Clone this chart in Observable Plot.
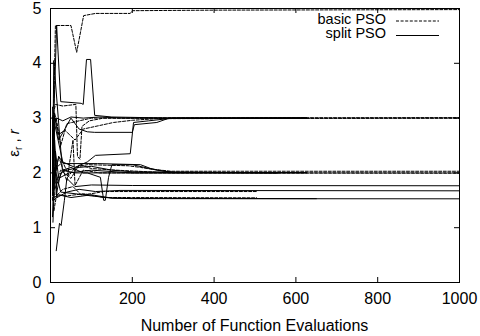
<!DOCTYPE html>
<html>
<head>
<meta charset="utf-8">
<script src="https://cdn.jsdelivr.net/npm/d3@7"></script>
<script src="https://cdn.jsdelivr.net/npm/@observablehq/plot@0.6"></script>
<style>
  html, body { margin: 0; padding: 0; background: #fff; }
  #chart svg { display: block; }
</style>
</head>
<body>
<div id="chart"></div>
<script>
// Axis ticks
const xTicks = [0, 200, 400, 600, 800, 1000];
const yTicks = [0, 1, 2, 3, 4, 5];

// Best-so-far trajectories, [evaluations, value]
// basic PSO runs (dashed)
const basic1 = [[8,3.2],[12,4.69],[50,4.69],[64,4.2],[81,4.87],[110,4.91],[195,4.91],[200,4.96],[400,4.97],[1000,4.98]];
const basic2 = [[5,2.2],[10,3.1],[20,2.7],[35,2.78],[60,2.6],[80,2.8],[117,2.86],[154,2.92],[200,2.96],[260,2.99],[1000,3.0]];
const basic3 = [[5,3.0],[12,3.25],[30,3.22],[62,3.25],[66,2.3],[72,2.25],[77,2.85],[95,2.95],[130,3.0],[1000,3.0]];
const basic4 = [[5,1.6],[9,2.5],[15,2.1],[30,2.2],[45,1.95],[60,2.1],[90,2.15],[190,2.13],[220,2.1],[245,2.07],[295,2.03],[1000,2.03]];
const basic5 = [[5,2.4],[10,1.8],[25,2.05],[50,1.9],[70,2.15],[100,2.08],[160,2.05],[240,2.02],[300,2.0],[1000,2.0]];
const basic6 = [[5,1.9],[10,1.55],[30,1.7],[55,1.75],[75,1.6],[100,1.62],[130,1.66],[180,1.66],[506,1.66]];
const basic7 = [[5,2.8],[8,1.3],[15,1.6],[40,1.58],[80,1.62],[130,1.55],[200,1.55],[504,1.545]];
const basic8 = [[5,1.5],[8,2.8],[14,3.0],[25,2.5],[40,2.9],[70,2.95],[100,3.0],[1000,3.008]];
const basic9 = [[5,2.6],[10,1.9],[20,2.3],[40,1.85],[55,2.6],[60,1.77],[80,2.05],[120,2.0],[200,2.0],[1000,1.995]];

// split PSO runs (solid)
const split1 = [[8,3.0],[15,4.69],[25,3.3],[75,3.27],[80,3.25],[88,4.07],[98,4.07],[108,3.05],[150,3.02],[300,3.0],[626,3.0]];
const split2 = [[5,1.8],[8,4.05],[29,2.05],[50,2.1],[80,2.0],[150,2.0],[555,2.0]];
const split3 = [[14,0.58],[22,1.08],[26,1.04],[34,1.5],[40,1.9],[60,1.75],[100,1.78],[200,1.77],[1000,1.765]];
const split4 = [[5,1.2],[10,2.6],[16,1.55],[40,1.65],[70,1.7],[110,1.66],[170,1.68],[1000,1.673]];
const split5 = [[5,3.0],[8,1.5],[20,1.6],[50,1.55],[100,1.6],[150,1.54],[200,1.53],[1000,1.527]];
const split6 = [[5,3.2],[9,1.9],[20,2.3],[32,2.17],[115,2.17],[220,2.15],[245,2.08],[270,2.04],[300,2.01],[626,2.0]];
const split7 = [[5,2.0],[10,3.05],[20,2.6],[50,3.0],[70,2.8],[90,2.75],[108,2.74],[200,2.74],[205,2.88],[260,2.92],[290,3.0],[626,3.008]];
const split8 = [[5,1.9],[10,2.9],[30,2.2],[60,2.1],[90,2.2],[110,2.32],[195,2.35],[203,2.92],[240,2.95],[300,3.0],[626,3.0]];
const split9 = [[5,2.6],[8,3.05],[14,1.6],[25,2.0],[40,2.05],[70,2.1],[100,2.12],[150,2.05],[200,2.02],[555,2.0]];
const split10 = [[5,1.7],[7,2.95],[15,3.0],[30,2.95],[50,3.02],[80,3.0],[120,3.02],[180,3.0],[626,2.995]];
const split11 = [[5,1.6],[10,2.1],[25,1.65],[60,1.62],[100,1.58],[150,1.54],[200,1.535],[650,1.53]];
const split12 = [[5,2.3],[10,1.7],[30,2.05],[60,2.0],[90,2.0],[122,1.92],[130,1.5],[134,1.5],[142,1.92],[150,2.15],[200,2.15],[260,2.05],[300,2.01],[555,2.006]];
const split13 = [[6,1.1],[8,1.5],[12,2.4],[20,1.9],[45,2.0],[100,2.05],[200,2.0],[626,2.006]];

const basicRuns = [basic1, basic2, basic3, basic4, basic5, basic6, basic7, basic8, basic9];
const splitRuns = [split1, split2, split3, split4, split5, split6, split7, split8, split9, split10, split11, split12, split13];

function toRows(runs, method) {
  return runs.flatMap((run, i) => run.map(([x, y]) => ({method, run: method + i, x, y})));
}
const basicRows = toRows(basicRuns, "basic PSO");
const splitRows = toRows(splitRuns, "split PSO");

const W = 480, H = 336;
const mL = 50, mR = 21, mT = 8, mB = 54;
const fw = W - mL - mR, fh = H - mT - mB;
const font = "'Liberation Sans', Arial, Helvetica, sans-serif";
const dash = "3,1.6";
const fmt = d3.format("d");

const chart = Plot.plot({
  width: W, height: H,
  marginLeft: mL, marginRight: mR, marginTop: mT, marginBottom: mB,
  x: {domain: [0, 1000]},
  y: {domain: [0, 5]},
  style: {fontFamily: font, fontSize: "16px", color: "#000", background: "#fff"},
  marks: [
    Plot.line(splitRows, {x: "x", y: "y", z: "run", stroke: "#000", strokeWidth: 1, strokeLinejoin: "miter"}),
    Plot.line(basicRows, {x: "x", y: "y", z: "run", stroke: "#000", strokeWidth: 1, strokeDasharray: dash}),
    // inward ticks on all four sides
    Plot.tickY(yTicks, {y: d => d, stroke: "#000", insetRight: fw - 5}),
    Plot.tickY(yTicks, {y: d => d, stroke: "#000", insetLeft: fw - 5}),
    Plot.tickX(xTicks, {x: d => d, stroke: "#000", insetTop: fh - 5}),
    Plot.tickX(xTicks, {x: d => d, stroke: "#000", insetBottom: fh - 5}),
    Plot.axisX(xTicks, {tickSize: 0, tickPadding: 10, label: null, tickFormat: fmt, fontSize: 16}),
    Plot.axisY(yTicks, {tickSize: 0, tickPadding: 9, label: null, tickFormat: fmt, fontSize: 16}),
    Plot.frame({stroke: "#000", strokeWidth: 1})
  ]
});

const svg = d3.select(chart);

// axis titles
svg.append("text")
  .attr("x", mL + fw / 2).attr("y", 331)
  .attr("text-anchor", "middle")
  .attr("font-family", font).attr("font-size", 16)
  .attr("fill", "#000")
  .text("Number of Function Evaluations");

const yl = svg.append("text")
  .attr("transform", "translate(19,143) rotate(-90)")
  .attr("text-anchor", "middle")
  .attr("font-family", font).attr("font-size", 15)
  .attr("fill", "#000");
yl.append("tspan").text("ε");
yl.append("tspan").attr("dy", 3).attr("font-size", 10).text("r");
yl.append("tspan").attr("dy", -3).text(" , ");
yl.append("tspan").attr("font-style", "italic").text("r");

// legend
const legend = [
  {label: "basic PSO", dash: dash, y: 23.5},
  {label: "split PSO", dash: null, y: 38}
];
const lg = svg.append("g");
legend.forEach(d => {
  lg.append("text")
    .attr("x", 386).attr("y", d.y)
    .attr("text-anchor", "end")
    .attr("font-family", font).attr("font-size", 14.5)
    .attr("fill", "#000")
    .text(d.label);
  lg.append("line")
    .attr("x1", 396).attr("x2", 439)
    .attr("y1", d.y - 2.5).attr("y2", d.y - 2.5)
    .attr("stroke", "#000").attr("stroke-width", 1)
    .attr("stroke-dasharray", d.dash);
});

document.getElementById("chart").append(chart);
</script>
</body>
</html>
